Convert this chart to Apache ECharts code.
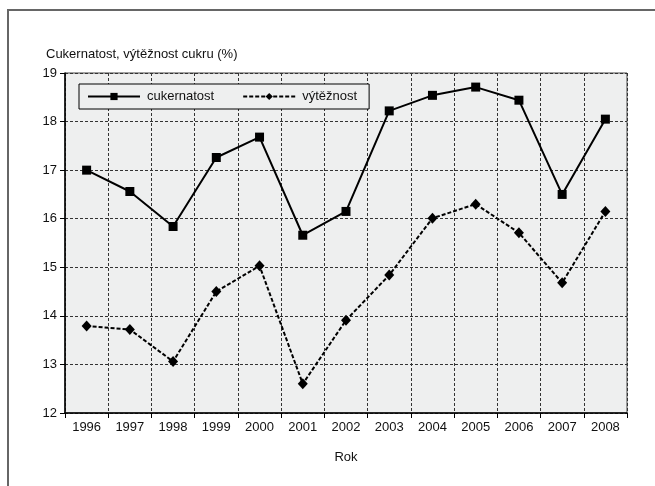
<!DOCTYPE html>
<html>
<head>
<meta charset="utf-8">
<script src="https://cdn.jsdelivr.net/npm/echarts@6/dist/echarts.min.js"></script>
<style>html,body{margin:0;padding:0;background:#fff}#c{width:655px;height:486px}</style>
</head>
<body>
<div id="c"></div>
<script>
var years = ['1996','1997','1998','1999','2000','2001','2002','2003','2004','2005','2006','2007','2008'];
var cukernatost = [17.00, 16.56, 15.84, 17.26, 17.68, 15.66, 16.15, 18.22, 18.54, 18.71, 18.44, 16.50, 18.05];
var vyteznost = [13.79, 13.72, 13.06, 14.50, 15.03, 12.60, 13.91, 14.84, 16.01, 16.30, 15.71, 14.68, 16.15];
var yTicks = [12, 13, 14, 15, 16, 17, 18, 19];

var FONT = '"Liberation Sans Narrow", "Liberation Sans", Arial, sans-serif';
var chart = echarts.init(document.getElementById('c'));
chart.setOption({
  animation: false,
  backgroundColor: '#ffffff',
  textStyle: {fontFamily: FONT},
  title: {
    text: 'Cukernatost, výtěžnost cukru (%)',
    left: 41, top: 43,
    textStyle: {fontFamily: FONT, fontSize: 13, fontWeight: 'normal', color: '#111'}
  },
  graphic: [
    {type: 'line', shape: {x1: 8, y1: 10, x2: 655, y2: 10}, style: {stroke: '#666', lineWidth: 2}, z: 100},
    {type: 'line', shape: {x1: 8, y1: 9, x2: 8, y2: 486}, style: {stroke: '#666', lineWidth: 2}, z: 100}
  ],
  legend: {
    left: 79, top: 84,
    orient: 'horizontal',
    itemWidth: 52, itemHeight: 9,
    itemGap: 28,
    padding: [6, 12, 6, 8],
    borderColor: '#000', borderWidth: 1,
    backgroundColor: '#eeefef',
    textStyle: {fontFamily: FONT, fontSize: 13, color: '#111', padding: [0, 0, 0, 2]},
    data: ['cukernatost', 'výtěžnost']
  },
  grid: {left: 65, right: 28, top: 73, bottom: 73, show: true, backgroundColor: '#eeefef', borderColor: '#444', borderWidth: 1},
  xAxis: {
    type: 'category',
    data: years,
    boundaryGap: true,
    name: 'Rok',
    nameLocation: 'middle',
    nameGap: 38,
    nameTextStyle: {fontFamily: FONT, fontSize: 13, color: '#111'},
    axisLine: {lineStyle: {color: '#000', width: 1.5}},
    axisTick: {show: true, length: 5, lineStyle: {color: '#000'}},
    axisLabel: {fontFamily: FONT, fontSize: 13, color: '#111', margin: 8},
    splitLine: {show: true, lineStyle: {color: '#333', type: [3, 2], width: 1}}
  },
  yAxis: {
    type: 'value',
    min: 12, max: 19, interval: 1,
    axisLine: {show: true, lineStyle: {color: '#000', width: 1.5}},
    axisTick: {show: true, length: 5, lineStyle: {color: '#000'}},
    axisLabel: {fontFamily: FONT, fontSize: 13, color: '#111', margin: 8,
      formatter: function (v) { return yTicks.indexOf(v) >= 0 ? String(v) : ''; }},
    splitLine: {show: true, lineStyle: {color: '#333', type: [3, 2], width: 1}}
  },
  series: [
    {
      name: 'cukernatost', type: 'line', data: cukernatost,
      symbol: 'rect', symbolSize: 9,
      itemStyle: {color: '#000'},
      lineStyle: {color: '#000', width: 2}
    },
    {
      name: 'výtěžnost', type: 'line', data: vyteznost,
      symbol: 'diamond', symbolSize: [10, 11],
      itemStyle: {color: '#000'},
      lineStyle: {color: '#000', width: 2, type: [4, 2]}
    }
  ]
});
</script>
</body>
</html>
